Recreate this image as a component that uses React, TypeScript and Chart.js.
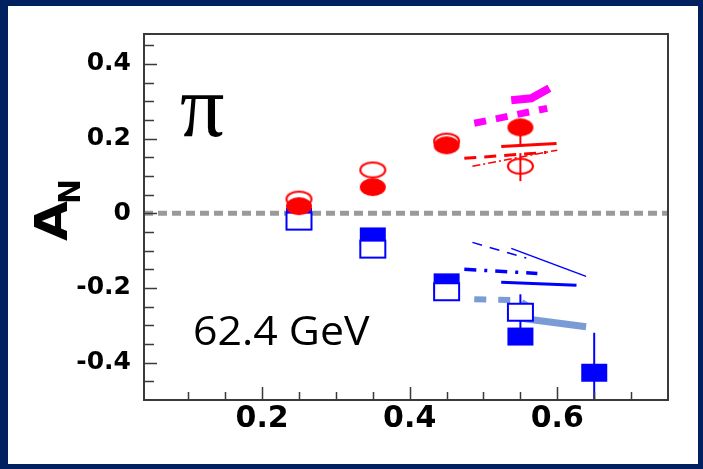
import React, { useEffect, useRef } from 'react';
import { Chart, registerables } from 'chart.js';
Chart.register(...registerables);

// ---- data ----
const xRed = [0.25, 0.35, 0.45, 0.55];
const redFilled = [0.019, 0.07, 0.182, 0.23];
const redOpen = [0.038, 0.116, 0.193, 0.126];
const xBlueFilled = [0.25, 0.35, 0.45, 0.55, 0.65];
const blueFilled = [-0.01, -0.062, -0.185, -0.33, -0.427];
const xBlueOpen = [0.25, 0.35, 0.45, 0.55];
const blueOpen = [-0.021, -0.096, -0.21, -0.265];

// error bars (x, low, high)
const redOpenErrX = [0.55];
const redOpenErrLo = [0.086];
const redOpenErrHi = [0.161];
const redFilledErrX = [0.55];
const redFilledErrLo = [0.179];
const redFilledErrHi = [0.23];
const blueOpenErrX = [0.55];
const blueOpenErrLo = [-0.31];
const blueOpenErrHi = [-0.217];
const blueFilledErrX = [0.65];
const blueFilledErrLo = [-0.6];
const blueFilledErrHi = [-0.32];

// theory curves
const magentaDashX = [0.4875, 0.5864];
const magentaDashY = [0.241, 0.281];
const magentaSolidX = [0.5376, 0.5647, 0.5892];
const magentaSolidY = [0.3026, 0.3079, 0.3347];
const redSolidX = [0.524, 0.599];
const redSolidY = [0.179, 0.187];
const redDashX = [0.474, 0.585];
const redDashY = [0.147, 0.163];
const redDashDotX = [0.485, 0.6];
const redDashDotY = [0.126, 0.169];
const blueThinDashX = [0.485, 0.558];
const blueThinDashY = [-0.078, -0.12];
const blueThinSolidX = [0.5376, 0.639];
const blueThinSolidY = [-0.094, -0.169];
const blueDashDotX = [0.474, 0.573];
const blueDashDotY = [-0.15, -0.161];
const blueSolidX = [0.524, 0.626];
const blueSolidY = [-0.185, -0.193];
const lightDashX = [0.4875, 0.5485, 0.5647];
const lightDashY = [-0.23, -0.233, -0.254];
const lightSolidX = [0.5376, 0.639];
const lightSolidY = [-0.278, -0.304];

const zeroLineX = [0.04, 0.75];
const zeroLineY = [0, 0];

// axes
const xMin = 0.04;
const xMax = 0.75;
const yMin = -0.5;
const yMax = 0.48;
const yTickValues = [-0.4, -0.2, 0, 0.2, 0.4];
const yTickLabels = ['-0.4', '-0.2', '0', '0.2', '0.4'];
const yMinorTicks = [-0.45, -0.35, -0.3, -0.25, -0.15, -0.1, -0.05, 0.05, 0.1, 0.15, 0.25, 0.3, 0.35, 0.45];
const xTickValues = [0.2, 0.4, 0.6];
const xTickLabels = ['0.2', '0.4', '0.6'];
const xMinorTicks = [0.1, 0.15, 0.25, 0.3, 0.35, 0.45, 0.5, 0.55, 0.65, 0.7];

const particleLabel = 'π';
const energyLabel = '62.4 GeV';
const yTitleMain = 'A';
const yTitleSub = 'N';

const pts = (xs: number[], ys: number[]) => xs.map((x, i) => ({ x, y: ys[i] }));
const errPts = (xs: number[], lo: number[], hi: number[]) => {
  const out: any[] = [];
  xs.forEach((x, i) => {
    out.push({ x, y: lo[i] });
    out.push({ x, y: hi[i] });
    out.push({ x: NaN, y: NaN });
  });
  return out;
};

function makeMarker(shape: 'ellipse' | 'rect', color: string, filled: boolean, w: number, h: number, fillWhite = false) {
  const c = document.createElement('canvas');
  c.width = w + 4;
  c.height = h + 4;
  const ctx = c.getContext('2d')!;
  ctx.beginPath();
  if (shape === 'ellipse') {
    ctx.ellipse(c.width / 2, c.height / 2, w / 2 - (filled ? 0 : 1), h / 2 - (filled ? 0 : 1), 0, 0, Math.PI * 2);
  } else {
    if (filled) ctx.rect(2, 2, w, h);
    else ctx.rect(3, 3, w - 2, h - 2);
  }
  if (filled) {
    ctx.fillStyle = color;
    ctx.fill();
  } else {
    if (fillWhite) {
      ctx.fillStyle = '#ffffff';
      ctx.fill();
    }
    ctx.strokeStyle = color;
    ctx.lineWidth = 2;
    ctx.stroke();
  }
  return c;
}

const decoPlugin = {
  id: 'deco',
  beforeDraw(chart: any) {
    const { ctx, width, height } = chart;
    ctx.save();
    ctx.fillStyle = '#002060';
    ctx.fillRect(0, 0, width, height);
    ctx.fillStyle = '#ffffff';
    ctx.fillRect(8, 6, width - 13, height - 11);
    ctx.restore();
  },
  afterDraw(chart: any) {
    const { ctx, chartArea, scales } = chart;
    const { left, right, top, bottom } = chartArea;
    const xs = scales.x;
    const ys = scales.y;
    ctx.save();
    ctx.strokeStyle = '#3a3a3a';
    ctx.lineWidth = 2;
    ctx.strokeRect(left, top, right - left, bottom - top);
    ctx.lineWidth = 1.5;
    ctx.beginPath();
    yTickValues.forEach((v) => {
      const p = Math.round(ys.getPixelForValue(v)) + 0.5;
      ctx.moveTo(left, p);
      ctx.lineTo(left + 13, p);
    });
    yMinorTicks.forEach((v) => {
      const p = Math.round(ys.getPixelForValue(v)) + 0.5;
      ctx.moveTo(left, p);
      ctx.lineTo(left + 10, p);
    });
    xTickValues.forEach((v) => {
      const p = Math.round(xs.getPixelForValue(v)) + 0.5;
      ctx.moveTo(p, bottom);
      ctx.lineTo(p, bottom - 13);
    });
    xMinorTicks.forEach((v) => {
      const p = Math.round(xs.getPixelForValue(v)) + 0.5;
      ctx.moveTo(p, bottom);
      ctx.lineTo(p, bottom - 8);
    });
    ctx.stroke();

    // pi label
    ctx.fillStyle = '#000';
    ctx.textBaseline = 'alphabetic';
    ctx.textAlign = 'left';
    ctx.font = '88px "Liberation Serif"';
    ctx.fillText(particleLabel, 180, 136);

    // energy label
    ctx.save();
    ctx.translate(193, 345);
    ctx.scale(1.07, 1);
    ctx.font = '40px "Open Sans"';
    ctx.fillText(energyLabel, 0, 0);
    ctx.restore();

    // y title A_N rotated
    ctx.save();
    ctx.translate(67, 221);
    ctx.rotate(-Math.PI / 2);
    ctx.save();
    ctx.scale(1.15, 1);
    ctx.font = 'bold 45px "DejaVu Sans"';
    ctx.textAlign = 'center';
    ctx.fillText(yTitleMain, 0, 0);
    ctx.restore();
    ctx.font = 'bold 30px "DejaVu Sans"';
    ctx.textAlign = 'left';
    ctx.fillText(yTitleSub, 17, 13);
    ctx.restore();

    ctx.restore();
  },
};

export default function App() {
  const ref = useRef<HTMLCanvasElement | null>(null);
  useEffect(() => {
    if (!ref.current) return;
    const redF = makeMarker('ellipse', '#ff0000', true, 26, 18);
    const redO = makeMarker('ellipse', '#ff0000', false, 27, 17);
    const blueF = makeMarker('rect', '#0000ff', true, 26, 18);
    const blueO = makeMarker('rect', '#0000ff', false, 27, 19, true);

    const line = (data: any[], color: string, width: number, dash: number[], order: number) => ({
      type: 'line' as const,
      data,
      borderColor: color,
      backgroundColor: color,
      borderWidth: width,
      borderDash: dash,
      pointRadius: 0,
      showLine: true,
      fill: false,
      tension: 0,
      spanGaps: false,
      order,
      borderCapStyle: 'butt' as const,
    });

    const chart = new Chart(ref.current, {
      type: 'scatter',
      data: {
        datasets: [
          line(pts(zeroLineX, zeroLineY), '#9a9a9a', 5, [9, 5], 20),
          line(pts(magentaDashX, magentaDashY), '#ff00ff', 7, [12, 10], 15),
          line(pts(magentaSolidX, magentaSolidY), '#ff00ff', 8, [], 15),
          line(pts(redSolidX, redSolidY), '#ff0000', 3, [], 15),
          line(pts(redDashX, redDashY), '#ff0000', 3, [12, 8], 15),
          line(pts(redDashDotX, redDashDotY), '#ff0000', 1.5, [8, 3, 2, 3], 15),
          line(pts(blueThinDashX, blueThinDashY), '#0000ff', 1.5, [10, 8], 15),
          line(pts(blueThinSolidX, blueThinSolidY), '#0000ff', 1.5, [], 15),
          line(pts(blueDashDotX, blueDashDotY), '#0000ff', 3.5, [12, 8, 3, 8], 15),
          line(pts(blueSolidX, blueSolidY), '#0000ff', 3, [], 15),
          line(pts(lightDashX, lightDashY), '#7b9bd6', 6, [12, 12], 15),
          line(pts(lightSolidX, lightSolidY), '#7b9bd6', 7, [], 15),
          line(errPts(redOpenErrX, redOpenErrLo, redOpenErrHi), '#ff0000', 2, [], 10),
          line(errPts(redFilledErrX, redFilledErrLo, redFilledErrHi), '#ff0000', 2, [], 10),
          line(errPts(blueOpenErrX, blueOpenErrLo, blueOpenErrHi), '#0000ff', 2, [], 10),
          line(errPts(blueFilledErrX, blueFilledErrLo, blueFilledErrHi), '#0000ff', 2, [], 10),
          {
            data: pts(xBlueFilled, blueFilled),
            pointStyle: blueF as any,
            pointRadius: 10,
            order: 6,
          },
          {
            data: pts(xBlueOpen, blueOpen),
            pointStyle: blueO as any,
            pointRadius: 10,
            order: 5,
          },
          {
            data: pts(xRed, redOpen),
            pointStyle: redO as any,
            pointRadius: 10,
            order: 4,
          },
          {
            data: pts(xRed, redFilled),
            pointStyle: redF as any,
            pointRadius: 10,
            order: 3,
          },
        ] as any,
      },
      options: {
        animation: false,
        responsive: false,
        devicePixelRatio: 1,
        events: [],
        layout: { padding: { left: 0, top: 34, right: 35, bottom: 0 } },
        plugins: { legend: { display: false }, tooltip: { enabled: false } },
        scales: {
          x: {
            type: 'linear',
            min: xMin,
            max: xMax,
            grid: { display: false, drawTicks: false },
            border: { display: false },
            ticks: {
              color: '#000',
              padding: 1,
              maxRotation: 0,
              autoSkip: false,
              font: { family: '"DejaVu Sans"', size: 30, weight: 'bold' },
              callback: (_v: any, i: number) => xTickLabels[i],
            },
            afterBuildTicks: (s: any) => {
              s.ticks = xTickValues.map((v) => ({ value: v }));
            },
            afterFit: (s: any) => {
              s.height = 69;
            },
          },
          y: {
            type: 'linear',
            min: yMin,
            max: yMax,
            grid: { display: false, drawTicks: false },
            border: { display: false },
            ticks: {
              color: '#000',
              padding: 13,
              autoSkip: false,
              font: { family: '"DejaVu Sans"', size: 25, weight: 'bold' },
              callback: (_v: any, i: number) => yTickLabels[i],
            },
            afterBuildTicks: (s: any) => {
              s.ticks = yTickValues.map((v) => ({ value: v }));
            },
            afterFit: (s: any) => {
              s.width = 144;
            },
          },
        },
      } as any,
      plugins: [decoPlugin],
    });
    return () => chart.destroy();
  }, []);

  return (
    <div style={{ position: 'fixed', left: 0, top: 0, width: 703, height: 469 }}>
      <canvas ref={ref} width={703} height={469} style={{ display: 'block', width: 703, height: 469 }} />
    </div>
  );
}
